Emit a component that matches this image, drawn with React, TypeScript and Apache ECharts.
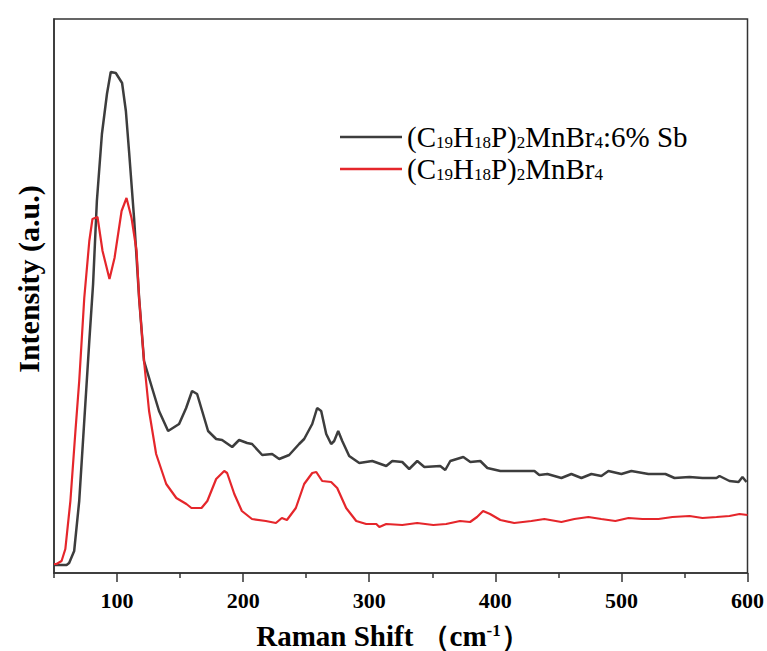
import React, { useEffect, useRef } from "react";
import * as echarts from "echarts";

// Raman shift (cm-1) and intensity (a.u.) for the Sb-doped sample
const dopedShift = [
  50, 60, 62, 66, 70, 74, 78, 81, 84, 88, 92, 95, 99, 102, 104, 107, 109.5, 113.5, 117.5,
  121.4, 127.8, 133.3, 140.5, 149.2, 154.8, 159.5, 163.5, 167.5, 172.2, 178.6, 183.3,
  191.3, 196.8, 203.2, 207.1, 215.1, 223, 228.6, 236.5, 244.4, 248.4, 254.8, 258.7,
  261.9, 265.9, 269.8, 272.2, 275.4, 278.6, 284.1, 292.1, 302.4, 313.5, 318.3, 326.2,
  331.7, 338.1, 343.7, 356.3, 360.3, 364.3, 374.6, 380.2, 388.1, 393.7, 404, 419.8,
  431, 434.9, 441.3, 452.4, 460.3, 468.3, 476.2, 484.1, 489.7, 500, 507.9, 521.4,
  534.9, 542.1, 554, 564.3, 575.4, 577.8, 585.7, 592.9, 596, 599.2,
];
const dopedIntensity = [
  160, 160, 200, 440, 1440, 3040, 4640, 5780, 7440, 8780, 9580, 10020, 10000, 9880, 9800,
  9240, 8440, 7100, 5500, 4240, 3700, 3240, 2840, 2980, 3300, 3640, 3580, 3240, 2840,
  2680, 2660, 2520, 2660, 2600, 2580, 2360, 2380, 2280, 2360, 2580, 2680, 2980, 3300,
  3240, 2780, 2580, 2640, 2840, 2640, 2340, 2200, 2240, 2140, 2240, 2220, 2080, 2240,
  2120, 2140, 2060, 2240, 2320, 2220, 2240, 2100, 2040, 2040, 2040, 1960, 1980, 1900,
  1980, 1900, 1980, 1940, 2040, 1980, 2040, 1980, 1980, 1900, 1920, 1900, 1900, 1940,
  1840, 1820, 1920, 1820,
];

// Raman shift (cm-1) and intensity (a.u.) for the undoped sample
const pureShift = [
  50, 52, 56, 59, 63, 67, 70, 74, 78, 80.5, 84.5, 88.5, 94, 98, 103.6, 107.5, 111.5,
  115.5, 117.5, 121.4, 125.4, 131, 139, 147, 155, 159, 167, 171.6, 178.6, 185, 187.3,
  193, 199, 207, 218, 226, 230.7, 234.7, 241.8, 248.4, 254.8, 258, 262.7, 269.8, 274.6,
  281.7, 289.7, 297.6, 305.6, 308, 313.5, 326.2, 338, 350.8, 361, 372, 380, 385.5,
  390.3, 395.8, 404, 415, 428.6, 438.9, 452.4, 462.7, 473.8, 484, 495.2, 505.6, 516.7,
  529.4, 540.5, 554, 564.3, 575.4, 585.7, 593.7, 600,
];
const pureIntensity = [
  180, 180, 240, 480, 1440, 2840, 3840, 5500, 6640, 7080, 7120, 6440, 5880, 6300, 7240,
  7500, 7100, 6440, 5500, 4240, 3240, 2380, 1780, 1500, 1380, 1300, 1300, 1440, 1880,
  2040, 2000, 1580, 1240, 1080, 1040, 1000, 1100, 1060, 1300, 1780, 2000, 2020, 1840,
  1820, 1700, 1300, 1040, 980, 980, 920, 980, 960, 1000, 960, 980, 1040, 1020, 1120,
  1240, 1180, 1060, 1000, 1040, 1080, 1020, 1080, 1120, 1080, 1040, 1100, 1080, 1080,
  1120, 1140, 1100, 1120, 1140, 1180, 1160,
];

const majorTicks = [100, 200, 300, 400, 500, 600];
const minorTicks = [50, 150, 250, 350, 450, 550];

const seriesNames = ["doped", "pure"];

const FONT = "Liberation Serif";

const zip = (xs: number[], ys: number[]) => xs.map((x, i) => [x, ys[i]]);

export default function App() {
  const ref = useRef<HTMLDivElement>(null);

  useEffect(() => {
    if (!ref.current) return;
    const chart = echarts.init(ref.current, undefined, { renderer: "svg" });

    const xBase = {
      type: "value" as const,
      min: 50,
      max: 600,
      position: "bottom" as const,
      splitLine: { show: false },
    };

    chart.setOption({
      animation: false,
      backgroundColor: "#ffffff",
      grid: {
        left: 54,
        right: 19,
        top: 19,
        bottom: 78,
        show: true,
        borderColor: "#333",
        borderWidth: 1.5,
      },
      xAxis: [
        {
          ...xBase,
          axisLine: { show: true, lineStyle: { color: "#333", width: 1.5 } },
          axisTick: {
            show: true,
            customValues: majorTicks,
            length: 9,
            lineStyle: { color: "#333", width: 1.5 },
          },
          axisLabel: {
            customValues: majorTicks,
            color: "#000",
            fontFamily: FONT,
            fontWeight: "bold",
            fontSize: 22,
            margin: 16,
          },
        },
        {
          ...xBase,
          axisLine: { show: false },
          axisTick: {
            show: true,
            customValues: minorTicks,
            length: 5,
            lineStyle: { color: "#333", width: 1.5 },
          },
          axisLabel: { show: false },
        },
      ],
      yAxis: {
        type: "value",
        min: 0,
        max: 11080,
        axisLine: { show: true, lineStyle: { color: "#333", width: 1.5 } },
        axisTick: { show: false },
        axisLabel: { show: false },
        splitLine: { show: false },
      },
      legend: {
        orient: "vertical",
        left: 335,
        top: 116,
        icon: "rect",
        itemWidth: 62,
        itemHeight: 2.5,
        itemGap: 0,
        data: seriesNames,
        formatter: (name: string) =>
          name === "doped"
            ? "(C{s|19}H{s|18}P){s|2}MnBr{s|4}:6% Sb"
            : "(C{s|19}H{s|18}P){s|2}MnBr{s|4}",
        textStyle: {
          color: "#000",
          fontFamily: FONT,
          fontSize: 29,
          lineHeight: 32,
          rich: {
            s: {
              fontFamily: FONT,
              fontSize: 17,
              lineHeight: 32,
              color: "#000",
              verticalAlign: "bottom",
              padding: [0, 0, 2, 0],
            },
          },
        },
      },
      graphic: [
        {
          type: "text",
          x: 28,
          y: 279,
          rotation: Math.PI / 2,
          style: {
            text: "Intensity (a.u.)",
            fontFamily: FONT,
            fontWeight: "bold",
            fontSize: 30,
            fill: "#000",
            align: "center",
            verticalAlign: "middle",
          },
        },
        {
          type: "text",
          x: 393,
          y: 636,
          style: {
            text: "Raman Shift （cm{sup|-1}）",
            fontFamily: FONT,
            fontWeight: "bold",
            fontSize: 29,
            fill: "#000",
            align: "center",
            verticalAlign: "middle",
            rich: {
              sup: {
                fontFamily: FONT,
                fontWeight: "bold",
                fontSize: 17,
                fill: "#000",
                verticalAlign: "top",
              },
            },
          },
        },
      ],
      series: [
        {
          name: "doped",
          type: "line",
          data: zip(dopedShift, dopedIntensity),
          showSymbol: false,
          symbol: "none",
          lineStyle: { color: "#3d3d3d", width: 2.5 },
          itemStyle: { color: "#3d3d3d" },
        },
        {
          name: "pure",
          type: "line",
          data: zip(pureShift, pureIntensity),
          showSymbol: false,
          symbol: "none",
          lineStyle: { color: "#e5262b", width: 2.2 },
          itemStyle: { color: "#e5262b" },
        },
      ],
    });

    return () => chart.dispose();
  }, []);

  return (
    <div
      ref={ref}
      style={{ position: "fixed", left: 0, top: 0, width: 767, height: 651, background: "#fff" }}
    />
  );
}
